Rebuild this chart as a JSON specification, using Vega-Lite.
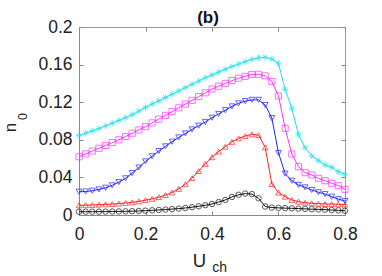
{
"$schema": "https://vega.github.io/schema/vega-lite/v6.json",
"width": 266, "height": 188,
"autosize": {"type": "none"},
"padding": {"left": 79, "top": 27, "right": 37, "bottom": 61},
"background": "white",
"title": {"text": "(b)", "fontSize": 17, "fontWeight": "bold", "font": "Liberation Sans", "anchor": "middle", "frame": "group", "offset": 3, "dy": 12, "dx": -4, "color": "#111"},
"config": {"view": {"stroke": "#999", "strokeWidth": 1}},
"data": {"values": [
{"s":"k","U":0,"n":0.0035},{"s":"k","U":0.02,"n":0.0035},{"s":"k","U":0.04,"n":0.0035},{"s":"k","U":0.06,"n":0.0036},{"s":"k","U":0.08,"n":0.0036},{"s":"k","U":0.1,"n":0.0037},{"s":"k","U":0.12,"n":0.0038},{"s":"k","U":0.14,"n":0.0039},{"s":"k","U":0.16,"n":0.0041},{"s":"k","U":0.18,"n":0.0043},{"s":"k","U":0.2,"n":0.0046},{"s":"k","U":0.22,"n":0.005},{"s":"k","U":0.24,"n":0.0054},{"s":"k","U":0.26,"n":0.0058},{"s":"k","U":0.28,"n":0.0063},{"s":"k","U":0.3,"n":0.0068},{"s":"k","U":0.32,"n":0.0075},{"s":"k","U":0.34,"n":0.0083},{"s":"k","U":0.36,"n":0.0093},{"s":"k","U":0.38,"n":0.0104},{"s":"k","U":0.4,"n":0.0117},{"s":"k","U":0.42,"n":0.0138},{"s":"k","U":0.44,"n":0.016},{"s":"k","U":0.46,"n":0.0192},{"s":"k","U":0.48,"n":0.0215},{"s":"k","U":0.5,"n":0.0228},{"s":"k","U":0.52,"n":0.0222},{"s":"k","U":0.54,"n":0.0178},{"s":"k","U":0.56,"n":0.009},{"s":"k","U":0.58,"n":0.0079},{"s":"k","U":0.6,"n":0.0076},{"s":"k","U":0.62,"n":0.0073},{"s":"k","U":0.64,"n":0.0071},{"s":"k","U":0.66,"n":0.0068},{"s":"k","U":0.68,"n":0.0065},{"s":"k","U":0.7,"n":0.0062},{"s":"k","U":0.72,"n":0.006},{"s":"k","U":0.74,"n":0.0057},{"s":"k","U":0.76,"n":0.0053},{"s":"k","U":0.78,"n":0.005},{"s":"k","U":0.8,"n":0.0045},
{"s":"r","U":0,"n":0.0103},{"s":"r","U":0.02,"n":0.0104},{"s":"r","U":0.04,"n":0.0107},{"s":"r","U":0.06,"n":0.011},{"s":"r","U":0.08,"n":0.0113},{"s":"r","U":0.1,"n":0.0117},{"s":"r","U":0.12,"n":0.0122},{"s":"r","U":0.14,"n":0.0128},{"s":"r","U":0.16,"n":0.0135},{"s":"r","U":0.18,"n":0.0145},{"s":"r","U":0.2,"n":0.0158},{"s":"r","U":0.22,"n":0.0172},{"s":"r","U":0.24,"n":0.019},{"s":"r","U":0.26,"n":0.0212},{"s":"r","U":0.28,"n":0.024},{"s":"r","U":0.3,"n":0.0278},{"s":"r","U":0.32,"n":0.0328},{"s":"r","U":0.34,"n":0.0392},{"s":"r","U":0.36,"n":0.0467},{"s":"r","U":0.38,"n":0.0545},{"s":"r","U":0.4,"n":0.0615},{"s":"r","U":0.42,"n":0.0674},{"s":"r","U":0.44,"n":0.0727},{"s":"r","U":0.46,"n":0.0778},{"s":"r","U":0.48,"n":0.0815},{"s":"r","U":0.5,"n":0.084},{"s":"r","U":0.52,"n":0.0858},{"s":"r","U":0.54,"n":0.085},{"s":"r","U":0.56,"n":0.072},{"s":"r","U":0.58,"n":0.033},{"s":"r","U":0.6,"n":0.0238},{"s":"r","U":0.62,"n":0.0195},{"s":"r","U":0.64,"n":0.016},{"s":"r","U":0.66,"n":0.0142},{"s":"r","U":0.68,"n":0.0131},{"s":"r","U":0.7,"n":0.0124},{"s":"r","U":0.72,"n":0.0121},{"s":"r","U":0.74,"n":0.0118},{"s":"r","U":0.76,"n":0.0116},{"s":"r","U":0.78,"n":0.0114},{"s":"r","U":0.8,"n":0.011},
{"s":"b","U":0,"n":0.0248},{"s":"b","U":0.02,"n":0.025},{"s":"b","U":0.04,"n":0.0258},{"s":"b","U":0.06,"n":0.0272},{"s":"b","U":0.08,"n":0.029},{"s":"b","U":0.1,"n":0.0315},{"s":"b","U":0.12,"n":0.035},{"s":"b","U":0.14,"n":0.039},{"s":"b","U":0.16,"n":0.0445},{"s":"b","U":0.18,"n":0.0505},{"s":"b","U":0.2,"n":0.057},{"s":"b","U":0.22,"n":0.0625},{"s":"b","U":0.24,"n":0.068},{"s":"b","U":0.26,"n":0.073},{"s":"b","U":0.28,"n":0.078},{"s":"b","U":0.3,"n":0.0825},{"s":"b","U":0.32,"n":0.0868},{"s":"b","U":0.34,"n":0.091},{"s":"b","U":0.36,"n":0.095},{"s":"b","U":0.38,"n":0.099},{"s":"b","U":0.4,"n":0.1035},{"s":"b","U":0.42,"n":0.1075},{"s":"b","U":0.44,"n":0.1115},{"s":"b","U":0.46,"n":0.1155},{"s":"b","U":0.48,"n":0.1188},{"s":"b","U":0.5,"n":0.1212},{"s":"b","U":0.52,"n":0.1225},{"s":"b","U":0.54,"n":0.1225},{"s":"b","U":0.56,"n":0.117},{"s":"b","U":0.58,"n":0.103},{"s":"b","U":0.6,"n":0.066},{"s":"b","U":0.62,"n":0.044},{"s":"b","U":0.64,"n":0.0365},{"s":"b","U":0.66,"n":0.032},{"s":"b","U":0.68,"n":0.0294},{"s":"b","U":0.7,"n":0.0266},{"s":"b","U":0.72,"n":0.0242},{"s":"b","U":0.74,"n":0.0222},{"s":"b","U":0.76,"n":0.0195},{"s":"b","U":0.78,"n":0.0168},{"s":"b","U":0.8,"n":0.0149},
{"s":"m","U":0,"n":0.062},{"s":"m","U":0.02,"n":0.065},{"s":"m","U":0.04,"n":0.068},{"s":"m","U":0.06,"n":0.071},{"s":"m","U":0.08,"n":0.074},{"s":"m","U":0.1,"n":0.077},{"s":"m","U":0.12,"n":0.08},{"s":"m","U":0.14,"n":0.0835},{"s":"m","U":0.16,"n":0.087},{"s":"m","U":0.18,"n":0.0905},{"s":"m","U":0.2,"n":0.094},{"s":"m","U":0.22,"n":0.098},{"s":"m","U":0.24,"n":0.102},{"s":"m","U":0.26,"n":0.106},{"s":"m","U":0.28,"n":0.11},{"s":"m","U":0.3,"n":0.114},{"s":"m","U":0.32,"n":0.118},{"s":"m","U":0.34,"n":0.122},{"s":"m","U":0.36,"n":0.126},{"s":"m","U":0.38,"n":0.13},{"s":"m","U":0.4,"n":0.134},{"s":"m","U":0.42,"n":0.137},{"s":"m","U":0.44,"n":0.14},{"s":"m","U":0.46,"n":0.143},{"s":"m","U":0.48,"n":0.1455},{"s":"m","U":0.5,"n":0.1475},{"s":"m","U":0.52,"n":0.1495},{"s":"m","U":0.54,"n":0.1497},{"s":"m","U":0.56,"n":0.148},{"s":"m","U":0.58,"n":0.142},{"s":"m","U":0.6,"n":0.1266},{"s":"m","U":0.62,"n":0.0922},{"s":"m","U":0.64,"n":0.0649},{"s":"m","U":0.66,"n":0.0514},{"s":"m","U":0.68,"n":0.045},{"s":"m","U":0.7,"n":0.0426},{"s":"m","U":0.72,"n":0.039},{"s":"m","U":0.74,"n":0.0365},{"s":"m","U":0.76,"n":0.0337},{"s":"m","U":0.78,"n":0.0312},{"s":"m","U":0.8,"n":0.0273},
{"s":"c","U":0,"n":0.0845},{"s":"c","U":0.02,"n":0.087},{"s":"c","U":0.04,"n":0.0895},{"s":"c","U":0.06,"n":0.092},{"s":"c","U":0.08,"n":0.0948},{"s":"c","U":0.1,"n":0.0976},{"s":"c","U":0.12,"n":0.1005},{"s":"c","U":0.14,"n":0.1035},{"s":"c","U":0.16,"n":0.1068},{"s":"c","U":0.18,"n":0.1105},{"s":"c","U":0.2,"n":0.1145},{"s":"c","U":0.22,"n":0.118},{"s":"c","U":0.24,"n":0.1215},{"s":"c","U":0.26,"n":0.125},{"s":"c","U":0.28,"n":0.1285},{"s":"c","U":0.3,"n":0.132},{"s":"c","U":0.32,"n":0.1355},{"s":"c","U":0.34,"n":0.139},{"s":"c","U":0.36,"n":0.1425},{"s":"c","U":0.38,"n":0.146},{"s":"c","U":0.4,"n":0.149},{"s":"c","U":0.42,"n":0.152},{"s":"c","U":0.44,"n":0.155},{"s":"c","U":0.46,"n":0.158},{"s":"c","U":0.48,"n":0.1605},{"s":"c","U":0.5,"n":0.163},{"s":"c","U":0.52,"n":0.1655},{"s":"c","U":0.54,"n":0.1672},{"s":"c","U":0.56,"n":0.1678},{"s":"c","U":0.58,"n":0.166},{"s":"c","U":0.6,"n":0.161},{"s":"c","U":0.62,"n":0.1337},{"s":"c","U":0.64,"n":0.1135},{"s":"c","U":0.66,"n":0.0858},{"s":"c","U":0.68,"n":0.0716},{"s":"c","U":0.7,"n":0.063},{"s":"c","U":0.72,"n":0.0578},{"s":"c","U":0.74,"n":0.0532},{"s":"c","U":0.76,"n":0.0507},{"s":"c","U":0.78,"n":0.046},{"s":"c","U":0.8,"n":0.0433}
]},
"layer": [
{
"mark": {"type": "line", "strokeWidth": 1},
"encoding": {
"x": {"field": "U", "type": "quantitative", "scale": {"domain": [0, 0.8], "nice": false, "padding": 0, "zero": false},
 "axis": {"orient": "bottom", "values": [0, 0.2, 0.4, 0.6, 0.8], "format": "~g", "grid": false, "labelFlush": false, "tickSize": -4, "tickColor": "#888", "domainColor": "#888", "labelFont": "Liberation Sans", "labelFontSize": 17.5, "labelColor": "#222", "labelPadding": 14, "title": "U", "titleFont": "Liberation Sans", "titleFontSize": 18.5, "titleFontWeight": "normal", "titleColor": "#222", "titleX": 120, "titleY": 51, "titleAlign": "center", "titleBaseline": "alphabetic"}},
"y": {"field": "n", "type": "quantitative", "scale": {"domain": [0, 0.2], "nice": false, "padding": 0},
 "axis": {"orient": "left", "values": [0, 0.04, 0.08, 0.12, 0.16, 0.2], "format": "~g", "grid": false, "labelFlush": false, "tickSize": -4, "tickColor": "#888", "domainColor": "#888", "labelFont": "Liberation Sans", "labelFontSize": 17.5, "labelColor": "#222", "labelPadding": 11, "title": "n", "titleFont": "Liberation Sans", "titleFontSize": 17, "titleFontWeight": "normal", "titleColor": "#222", "titleAngle": -90, "titleX": -64, "titleY": 100, "titleAlign": "center", "titleBaseline": "alphabetic"}},
"color": {"field": "s", "type": "nominal", "legend": null, "scale": {"domain": ["k", "r", "b", "m", "c"], "range": ["#111111", "#ff2222", "#2222ff", "#ff33ff", "#22e0ea"]}}
}
},
{
"mark": {"type": "point", "filled": false, "strokeWidth": 1},
"encoding": {
"x": {"field": "U", "type": "quantitative",
 "axis": {"orient": "top", "values": [0, 0.2, 0.4, 0.6, 0.8], "labels": false, "domain": false, "grid": false, "tickSize": -4, "tickColor": "#888", "title": "ch", "titleFont": "Liberation Sans", "titleFontSize": 14, "titleFontWeight": "normal", "titleColor": "#222", "titleX": 132.7, "titleY": 244.7, "titleAlign": "left", "titleBaseline": "alphabetic", "titleAngle": 0}},
"y": {"field": "n", "type": "quantitative",
 "axis": {"orient": "right", "values": [0, 0.04, 0.08, 0.12, 0.16, 0.2], "labels": false, "domain": false, "grid": false, "tickSize": -4, "tickColor": "#888", "title": "0", "titleFont": "Liberation Sans", "titleFontSize": 12.5, "titleFontWeight": "normal", "titleColor": "#222", "titleAngle": -90, "titleX": -319, "titleY": 89, "titleAlign": "center", "titleBaseline": "alphabetic"}},
"color": {"field": "s", "type": "nominal", "legend": null},
"shape": {"field": "s", "type": "nominal", "legend": null, "scale": {"domain": ["k", "r", "b", "m", "c"], "range": ["circle", "triangle-up", "triangle-down", "square", "M0,-1L0,1M-1,0L1,0M-0.7,-0.7L0.7,0.7M-0.7,0.7L0.7,-0.7"]}},
"size": {"field": "s", "type": "nominal", "legend": null, "scale": {"domain": ["k", "r", "b", "m", "c"], "range": [30, 40, 40, 28, 55]}}
}
}
],
"resolve": {"axis": {"x": "independent", "y": "independent"}}
}
